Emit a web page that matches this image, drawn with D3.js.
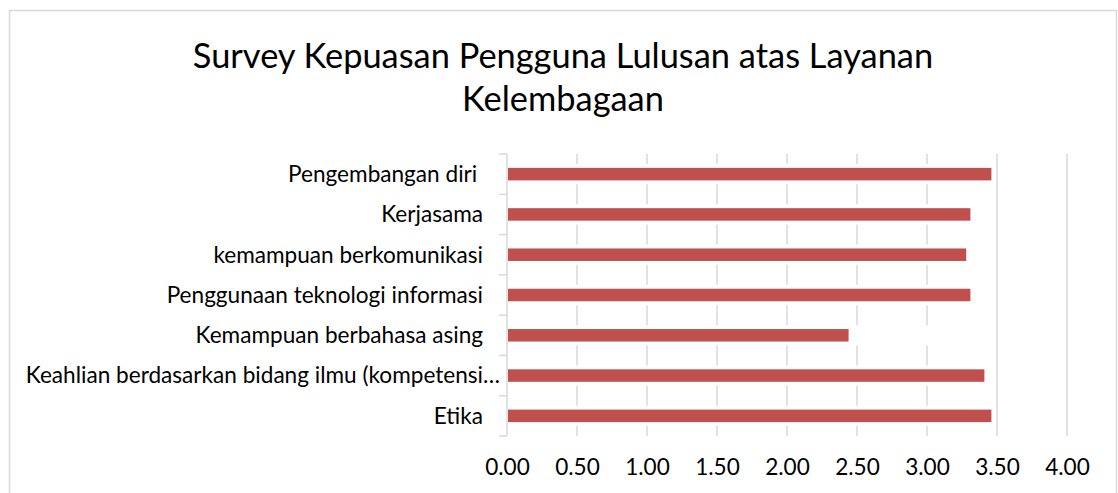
<!DOCTYPE html>
<html>
<head>
<meta charset="utf-8">
<script src="https://cdn.jsdelivr.net/npm/d3@7"></script>
<style>
  body { margin: 0; background: #fff; }
  text { font-family: Lato, "Open Sans", sans-serif; fill: #000; }
</style>
</head>
<body>
<script>
const categories = [
    "Pengembangan diri ",
    "Kerjasama",
    "kemampuan berkomunikasi",
    "Penggunaan teknologi informasi",
    "Kemampuan berbahasa asing",
    "Keahlian berdasarkan bidang ilmu (kompetensi…",
    "Etika"
];
const values = [3.46, 3.31, 3.28, 3.31, 2.44, 3.41, 3.46];
const tickValues = [0, 0.5, 1, 1.5, 2, 2.5, 3, 3.5, 4];
const titleLines = ["Survey Kepuasan Pengguna Lulusan atas Layanan", "Kelembagaan"];

const width = 1118
    , height = 493;
const margin = {top: 154, right: 51, bottom: 57, left: 507};

var svg = d3.select("body").append("svg")
    .attr("width", width)
    .attr("height", height);

// chart frame
svg.append("rect")
    .attr("x", 9.5)
    .attr("y", 10.5)
    .attr("width", 1107)
    .attr("height", 500)
    .attr("fill", "#fff")
    .attr("stroke", "#d9d9d9")
    .attr("stroke-width", 1.5);

svg.selectAll(".title")
    .data(titleLines)
    .enter()
    .append("text")
    .attr("class", "title")
    .attr("x", 563)
    .attr("y", function(d, i) { return 68 + i * 43; })
    .attr("text-anchor", "middle")
    .style("font-size", "34.4px")
    .text(d => d);

var x = d3.scaleLinear()
    .domain([0, 4])
    .range([margin.left, width - margin.right]);

var y = d3.scaleBand()
    .domain(categories)
    .range([margin.top, height - margin.bottom]);

// vertical gridlines
svg.append("g")
    .selectAll("line")
    .data(tickValues.slice(1))
    .enter()
    .append("line")
    .attr("x1", d => x(d))
    .attr("x2", d => x(d))
    .attr("y1", margin.top)
    .attr("y2", height - margin.bottom)
    .attr("stroke", "#d9d9d9")
    .attr("stroke-width", 1.5);

// white band behind each bar row
svg.append("g")
    .selectAll("rect")
    .data(categories)
    .enter()
    .append("rect")
    .attr("x", x(0))
    .attr("y", d => y(d) + y.bandwidth() * 0.25)
    .attr("width", x(d3.max(values)) - x(0))
    .attr("height", y.bandwidth() * 0.5)
    .attr("fill", "#fff");

svg.append("g")
    .selectAll("rect")
    .data(values)
    .enter()
    .append("rect")
    .attr("x", x(0) + 1)
    .attr("y", (d, i) => y(categories[i]) + y.bandwidth() * 0.345)
    .attr("width", d => x(d) - x(0) - 1)
    .attr("height", y.bandwidth() * 0.31)
    .attr("fill", "#c0504d");

// category axis with ticks between categories
var yAxis = svg.append("g")
    .attr("class", "y axis");
yAxis.append("line")
    .attr("x1", x(0))
    .attr("x2", x(0))
    .attr("y1", margin.top)
    .attr("y2", height - margin.bottom)
    .attr("stroke", "#d9d9d9")
    .attr("stroke-width", 1.5);
yAxis.selectAll(".tick")
    .data(d3.range(categories.length + 1))
    .enter()
    .append("line")
    .attr("class", "tick")
    .attr("x1", x(0) - 8)
    .attr("x2", x(0))
    .attr("y1", i => margin.top + i * y.step())
    .attr("y2", i => margin.top + i * y.step())
    .attr("stroke", "#d9d9d9")
    .attr("stroke-width", 1.5);
yAxis.selectAll(".label")
    .data(categories)
    .enter()
    .append("text")
    .attr("class", "label")
    .attr("x", d => d.endsWith("…") ? x(0) - 7 : x(0) - 24)
    .attr("y", d => y(d) + y.bandwidth() / 2)
    .attr("dy", "0.35em")
    .attr("text-anchor", "end")
    .style("font-size", "22.6px")
    .style("white-space", "pre")
    .text(d => d);

var xAxis = d3.axisBottom(x)
    .tickValues(tickValues)
    .tickFormat(d3.format(".2f"))
    .tickSize(0)
    .tickPadding(23);
svg.append("g")
    .attr("class", "x axis")
    .attr("transform", "translate(0," + (height - margin.bottom) + ")")
    .call(xAxis)
    .call(g => g.select(".domain").remove())
    .selectAll("text")
    .style("font-size", "22.6px")
    .style("font-family", "Lato, sans-serif");
</script>
</body>
</html>
